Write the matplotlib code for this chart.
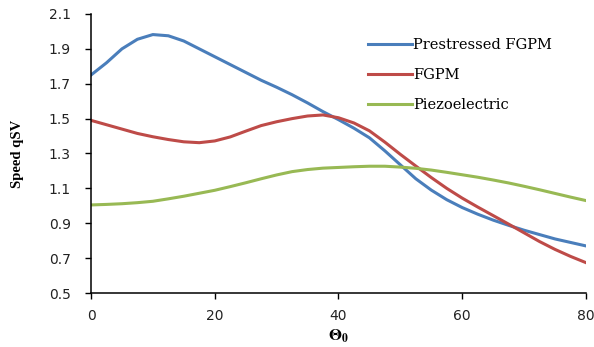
import matplotlib
matplotlib.use("Agg")
import matplotlib.pyplot as plt

theta = [0, 2.5, 5, 7.5, 10, 12.5, 15, 17.5, 20, 22.5, 25, 27.5, 30, 32.5, 35, 37.5, 40,
         42.5, 45, 47.5, 50, 52.5, 55, 57.5, 60, 62.5, 65, 67.5, 70, 72.5, 75, 77.5, 80]
prestressed = [1.75, 1.82, 1.90, 1.955, 1.982, 1.975, 1.945, 1.90, 1.855, 1.81, 1.765, 1.72,
               1.68, 1.637, 1.59, 1.54, 1.494, 1.445, 1.39, 1.315, 1.235, 1.155, 1.09, 1.035,
               0.99, 0.952, 0.918, 0.888, 0.86, 0.835, 0.81, 0.79, 0.77]
fgpm = [1.49, 1.465, 1.44, 1.415, 1.396, 1.38, 1.367, 1.362, 1.372, 1.395, 1.428, 1.46,
        1.482, 1.50, 1.515, 1.521, 1.505, 1.475, 1.43, 1.365, 1.295, 1.228, 1.162, 1.10,
        1.044, 0.993, 0.944, 0.895, 0.845, 0.795, 0.75, 0.71, 0.674]
piezo = [1.005, 1.008, 1.012, 1.018, 1.026, 1.04, 1.055, 1.072, 1.089, 1.11, 1.132, 1.155,
         1.177, 1.196, 1.208, 1.216, 1.22, 1.224, 1.227, 1.227, 1.222, 1.215, 1.205, 1.192,
         1.178, 1.164, 1.148, 1.131, 1.112, 1.092, 1.071, 1.05, 1.03]

labels = ["Prestressed FGPM", "FGPM", "Piezoelectric"]
colors = ["#4A7EBB", "#BE4B48", "#98B954"]
xticks = [0, 20, 40, 60, 80]
yticks = [0.5, 0.7, 0.9, 1.1, 1.3, 1.5, 1.7, 1.9, 2.1]

fig = plt.figure(figsize=(5.94, 3.47), dpi=100)
ax = fig.add_axes([0.1532, 0.1556, 0.8333, 0.8041])

for ys, lab, c in zip([prestressed, fgpm, piezo], labels, colors):
    ax.plot(theta, ys, color=c, lw=2.2, label=lab, solid_joinstyle="round")

ax.set_xlim(0, 80)
ax.set_ylim(0.5, 2.1)
ax.set_xticks(xticks)
ax.set_yticks(yticks)
ax.set_yticklabels([f"{v:.1f}" for v in yticks])
for s in ["top", "right"]:
    ax.spines[s].set_visible(False)
for s in ["left", "bottom"]:
    ax.spines[s].set_linewidth(1.1)
ax.tick_params(axis="y", direction="out", length=4.5, width=1.0, labelsize=10, pad=10)
ax.tick_params(axis="x", direction="out", length=4.5, width=1.0, labelsize=10, pad=7)
for t in ax.get_xticklabels() + ax.get_yticklabels():
    t.set_fontfamily("DejaVu Sans")
    t.set_color("#222222")

ax.set_ylabel("Speed qSV", fontfamily="Liberation Serif", fontweight="bold", fontsize=10.5)
ax.yaxis.set_label_coords(-0.135, 0.5)
ax.set_xlabel(r"$\mathbf{\Theta_0}$", fontsize=12, labelpad=3, math_fontfamily="stix")

leg = ax.legend(loc="upper left", bbox_to_anchor=(368 / 594, 1 - 38 / 347),
                bbox_transform=fig.transFigure, frameon=False, borderpad=0, borderaxespad=0,
                prop={"family": "DejaVu Serif", "size": 10.5},
                handlelength=3.0, handletextpad=0.1, labelspacing=1.1)

fig.savefig("out.png", dpi=100)
